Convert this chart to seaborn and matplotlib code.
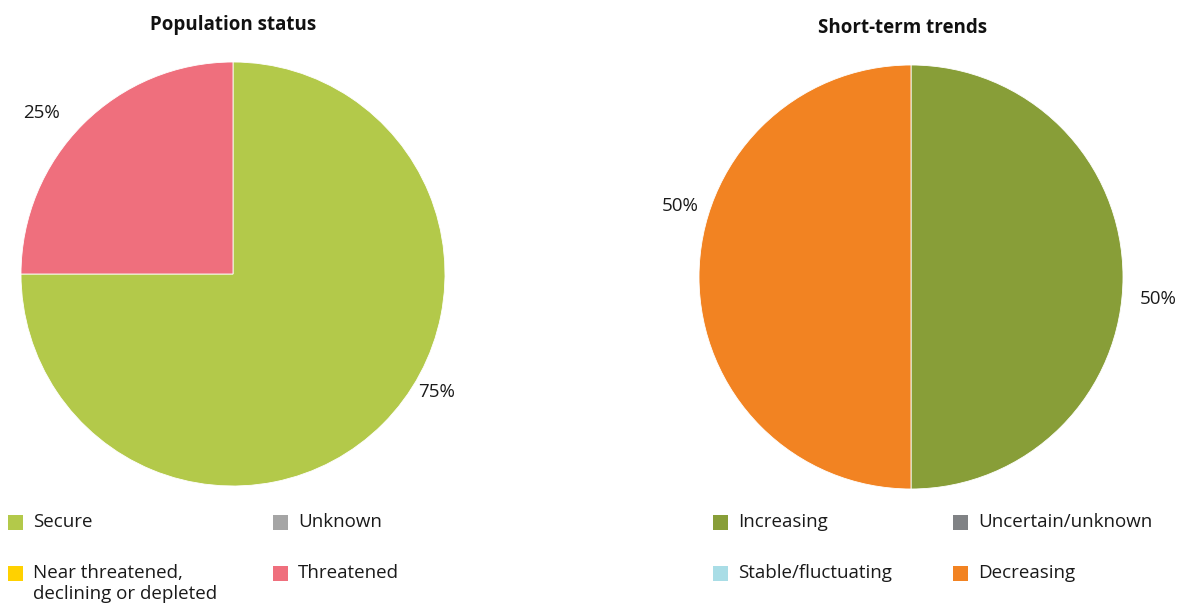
import numpy as np
import matplotlib.pyplot as plt
import seaborn as sns
from matplotlib.patches import Rectangle

# Population status
status_labels = ['Secure', 'Unknown', 'Near threatened,\ndeclining or depleted', 'Threatened']
status_values = [75, 0, 0, 25]
status_colors = ['#b3c94a', '#a5a5a5', '#ffd100', '#ef6f7d']

# Short-term trends
trend_labels = ['Increasing', 'Uncertain/unknown', 'Stable/fluctuating', 'Decreasing']
trend_values = [50, 0, 0, 50]
trend_colors = ['#889e38', '#808285', '#a9dde6', '#f28322']

sns.set_style('white')
plt.rcParams['font.family'] = ['Open Sans', 'DejaVu Sans']

W, H = 1184, 603
fig = plt.figure(figsize=(W / 100, H / 100), dpi=100)


def px(x, y):
    # pixel position (from top left) -> figure fraction
    return x / W, 1 - y / H


def draw_pie(rect, title, values, colors, label_pos, title_x=0.5):
    ax = fig.add_axes(rect)
    vals = [v for v in values if v > 0]
    cols = [c for v, c in zip(values, colors) if v > 0]
    ax.pie(vals, colors=cols, startangle=90, counterclock=False,
           wedgeprops=dict(edgecolor='white', linewidth=0.6))
    ax.set_xlim(-1, 1)
    ax.set_ylim(-1, 1)
    ax.set_aspect('equal')
    # percentage labels outside the wedges
    for v, (ang, dist) in zip(vals, label_pos):
        a = np.deg2rad(ang)
        ax.text(dist * np.cos(a), dist * np.sin(a), f'{v}%', ha='center', va='center',
                fontsize=13.5, color='#1a1a1a')
    ax.text(title_x, 1.087, title, transform=ax.transAxes, ha='center', va='center',
            fontsize=13.5, fontweight='bold', color='#111111')
    return ax


draw_pie([21 / W, 1 - 486 / H, 424 / W, 424 / H], 'Population status',
         status_values, status_colors, [(-30, 1.11), (140, 1.18)])
draw_pie([699 / W, 1 - 489 / H, 424 / W, 424 / H], 'Short-term trends',
         trend_values, trend_colors, [(-5, 1.17), (163, 1.14)], title_x=0.48)


def draw_legend(x0, x1, labels, colors):
    # 2 columns, row-major
    cols_x = [x0, x1]
    rows_y = [522, 573]
    for i, (lab, col) in enumerate(zip(labels, colors)):
        x = cols_x[i % 2]
        y = rows_y[i // 2]
        fx, fy = px(x, y + 7.5)
        fig.add_artist(Rectangle((fx, fy), 15 / W, 15 / H, facecolor=col,
                                 edgecolor='none', transform=fig.transFigure))
        tx, ty = px(x + 25, y - 9)
        fig.text(tx, ty, lab, ha='left', va='top', fontsize=13.5, color='#1a1a1a',
                 linespacing=1.2)


draw_legend(8, 273, status_labels, status_colors)
draw_legend(713, 953, trend_labels, trend_colors)

fig.savefig('out.png', dpi=100)
